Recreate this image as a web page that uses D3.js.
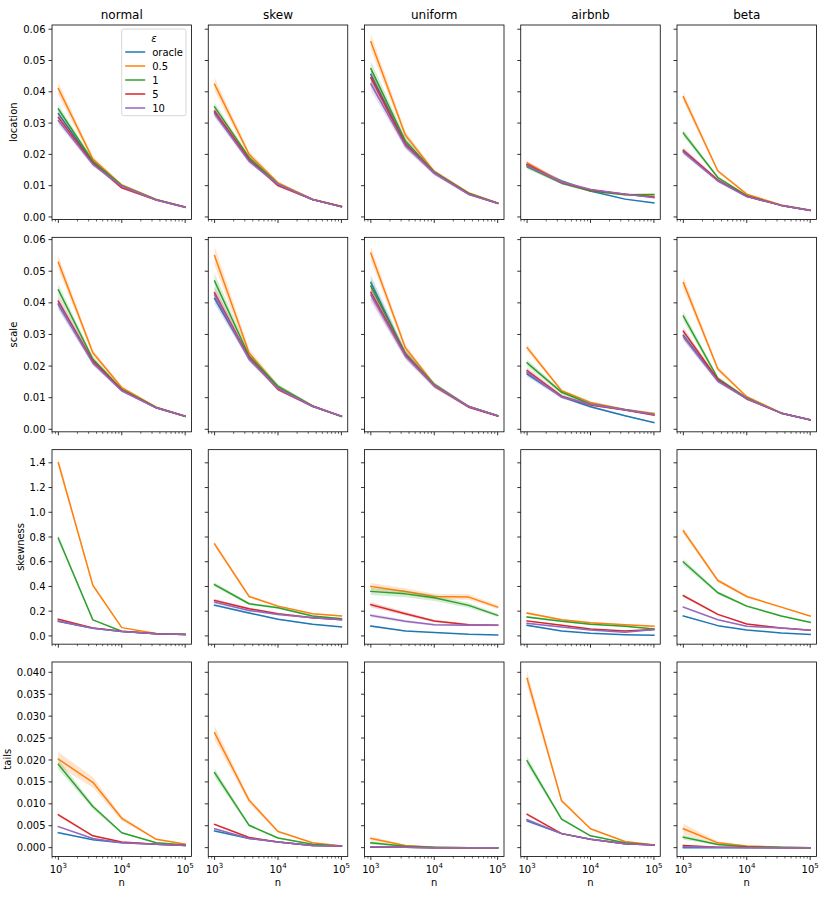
<!DOCTYPE html>
<html><head><meta charset="utf-8">
<script src="https://cdn.jsdelivr.net/npm/d3@7"></script>
<style>body{margin:0;background:#fff} svg text{font-family:"DejaVu Sans",sans-serif;fill:#000}</style>
</head><body><svg id="c" width="830" height="900"></svg>
<script>
// ---------- data ----------
const nValues = [1000, 3500, 10000, 35000, 100000];
const distributions = ["normal", "skew", "uniform", "airbnb", "beta"];
const metrics = ["location", "scale", "skewness", "tails"];
const epsilons = ["oracle", "0.5", "1", "5", "10"];
const colors = ["#1f77b4", "#ff7f0e", "#2ca02c", "#d62728", "#9467bd"];

// rows of each array: oracle, 0.5, 1, 5, 10 ; columns: nValues
const locNormal = [[0.0330,0.0175,0.0100,0.0055,0.0032],[0.0410,0.0185,0.0102,0.0056,0.0032],[0.0345,0.0178,0.0100,0.0055,0.0032],[0.0318,0.0172,0.0093,0.0054,0.0031],[0.0308,0.0168,0.0098,0.0054,0.0031]];
const locSkew = [[0.0335,0.0182,0.0104,0.0056,0.0033],[0.0424,0.0200,0.0109,0.0057,0.0034],[0.0352,0.0190,0.0105,0.0056,0.0033],[0.0338,0.0183,0.0100,0.0056,0.0033],[0.0330,0.0178,0.0104,0.0056,0.0032]];
const locUniform = [[0.0455,0.0235,0.0142,0.0074,0.0044],[0.0560,0.0262,0.0145,0.0077,0.0045],[0.0474,0.0243,0.0143,0.0075,0.0044],[0.0445,0.0232,0.0141,0.0073,0.0044],[0.0425,0.0228,0.0140,0.0072,0.0044]];
const locAirbnb = [[0.0165,0.0115,0.0083,0.0057,0.0045],[0.0173,0.0112,0.0086,0.0072,0.0066],[0.0160,0.0108,0.0083,0.0071,0.0072],[0.0168,0.0110,0.0086,0.0073,0.0063],[0.0164,0.0111,0.0088,0.0073,0.0062]];
const locBeta = [[0.0210,0.0117,0.0066,0.0037,0.0021],[0.0384,0.0147,0.0073,0.0038,0.0022],[0.0268,0.0126,0.0068,0.0037,0.0021],[0.0213,0.0118,0.0066,0.0037,0.0021],[0.0207,0.0115,0.0065,0.0037,0.0021]];

const scaleNormal = [[0.0395,0.0213,0.0124,0.0068,0.0041],[0.0528,0.0242,0.0132,0.0070,0.0042],[0.0441,0.0222,0.0126,0.0069,0.0041],[0.0405,0.0215,0.0124,0.0068,0.0041],[0.0398,0.0210,0.0122,0.0068,0.0041]];
const scaleSkew = [[0.0414,0.0225,0.0132,0.0073,0.0041],[0.0549,0.0241,0.0135,0.0074,0.0041],[0.0469,0.0232,0.0136,0.0074,0.0041],[0.0432,0.0226,0.0126,0.0073,0.0041],[0.0425,0.0222,0.0129,0.0073,0.0041]];
const scaleUniform = [[0.0464,0.0238,0.0140,0.0072,0.0043],[0.0557,0.0258,0.0142,0.0072,0.0043],[0.0453,0.0240,0.0141,0.0072,0.0043],[0.0433,0.0236,0.0137,0.0070,0.0042],[0.0425,0.0232,0.0138,0.0072,0.0043]];
const scaleAirbnb = [[0.0175,0.0103,0.0071,0.0043,0.0021],[0.0258,0.0122,0.0085,0.0063,0.0050],[0.0210,0.0117,0.0080,0.0062,0.0047],[0.0186,0.0105,0.0077,0.0061,0.0045],[0.0180,0.0102,0.0079,0.0062,0.0047]];
const scaleBeta = [[0.0297,0.0155,0.0098,0.0051,0.0030],[0.0464,0.0191,0.0103,0.0052,0.0030],[0.0358,0.0161,0.0099,0.0051,0.0030],[0.0310,0.0157,0.0096,0.0051,0.0030],[0.0292,0.0152,0.0097,0.0051,0.0030]];

const skewNormal = [[0.118,0.062,0.036,0.018,0.012],[1.400,0.410,0.067,0.020,0.013],[0.790,0.130,0.038,0.018,0.012],[0.135,0.065,0.037,0.018,0.012],[0.120,0.062,0.036,0.018,0.012]];
const skewSkew = [[0.249,0.185,0.134,0.094,0.072],[0.743,0.319,0.241,0.180,0.161],[0.415,0.260,0.228,0.161,0.139],[0.287,0.220,0.180,0.147,0.131],[0.273,0.206,0.174,0.147,0.131]];
const skewUniform = [[0.080,0.040,0.027,0.013,0.008],[0.400,0.360,0.319,0.314,0.233],[0.360,0.340,0.308,0.247,0.166],[0.252,0.180,0.121,0.091,0.086],[0.166,0.118,0.091,0.086,0.086]];
const skewAirbnb = [[0.086,0.040,0.021,0.010,0.005],[0.185,0.131,0.107,0.091,0.078],[0.153,0.118,0.094,0.078,0.056],[0.121,0.086,0.056,0.040,0.051],[0.102,0.072,0.048,0.030,0.051]];
const skewBeta = [[0.161,0.083,0.048,0.024,0.011],[0.850,0.448,0.319,0.233,0.161],[0.598,0.349,0.241,0.161,0.110],[0.325,0.174,0.097,0.064,0.046],[0.233,0.131,0.078,0.064,0.046]];

const tailsNormal = [[0.0034,0.0018,0.0011,0.0008,0.0005],[0.0202,0.0149,0.0067,0.0019,0.0008],[0.0190,0.0094,0.0034,0.0011,0.0006],[0.0075,0.0027,0.0013,0.0008,0.0005],[0.0048,0.0021,0.0011,0.0008,0.0005]];
const tailsSkew = [[0.0038,0.0021,0.0013,0.0005,0.0004],[0.0262,0.0108,0.0037,0.0011,0.0004],[0.0171,0.0051,0.0022,0.0008,0.0004],[0.0053,0.0023,0.0013,0.0005,0.0004],[0.0043,0.0021,0.0013,0.0005,0.0004]];
const tailsUniform = [[0.0001,0.0001,0.0000,0.0000,0.0000],[0.0021,0.0005,0.0001,0.0000,0.0000],[0.0011,0.0003,0.0001,0.0000,0.0000],[0.0002,0.0001,0.0000,0.0000,0.0000],[0.0002,0.0001,0.0000,0.0000,0.0000]];
const tailsAirbnb = [[0.0061,0.0032,0.0019,0.0009,0.0006],[0.0386,0.0107,0.0043,0.0014,0.0006],[0.0198,0.0065,0.0027,0.0011,0.0006],[0.0076,0.0032,0.0019,0.0009,0.0006],[0.0064,0.0032,0.0019,0.0009,0.0006]];
const tailsBeta = [[0.0000,0.0000,0.0000,0.0000,0.0000],[0.0043,0.0011,0.0004,0.0001,0.0000],[0.0024,0.0007,0.0002,0.0001,0.0000],[0.0005,0.0001,0.0001,0.0000,0.0000],[0.0002,0.0001,0.0000,0.0000,0.0000]];

// confidence band half-width, % of value, per distribution per epsilon
const bandLocation = [[4,5,4,4,4],[4,5,4,4,4],[5,4.5,5,5,5],[4,4,4,4,4],[4,4,4,4,4]];
const bandScale = [[4,4,4,4,4],[4,5.5,5,4,4],[5,4,5,5,5],[5,4,5,5,5],[4,4,4,4,4]];
const bandSkewness = [[3,2.5,3,4,4],[4,3,4,4,4],[7,7,8,8,9],[5,5,5,5,5],[3,3,4,4,4]];
const bandTails = [[6,8,6,5,5],[6,6,6,5,5],[30,25,35,30,30],[5,4.5,5,5,5],[30,28,25,30,30]];

const yTicksLoc = [0,0.01,0.02,0.03,0.04,0.05,0.06];
const yTicksSkew = [0,0.2,0.4,0.6,0.8,1.0,1.2,1.4];
const yTicksTails = [0,0.005,0.010,0.015,0.020,0.025,0.030,0.035,0.040];
const xMajorTicks = [1e3, 1e4, 1e5];
const xTickExp = ["3", "4", "5"];

// ---------- assembly ----------
const rowData = [
  [locNormal, locSkew, locUniform, locAirbnb, locBeta],
  [scaleNormal, scaleSkew, scaleUniform, scaleAirbnb, scaleBeta],
  [skewNormal, skewSkew, skewUniform, skewAirbnb, skewBeta],
  [tailsNormal, tailsSkew, tailsUniform, tailsAirbnb, tailsBeta]
];
const rowBands = [bandLocation, bandScale, bandSkewness, bandTails];
const rowTicks = [yTicksLoc, yTicksLoc, yTicksSkew, yTicksTails];
const rowFmt = [d3.format(".2f"), d3.format(".2f"), d3.format(".1f"), d3.format(".3f")];

const W = 139.5, H = 194.5;
const colLeft = c => 52 + c * 156.25;
const rowTop = r => 25 + r * 212.33;

const svg = d3.select("#c");
const x = d3.scaleLog().domain([Math.pow(10, 2.9), Math.pow(10, 5.1)]).range([0, W]);
const xMinor = [];
for (let e = 2; e <= 5; e++) for (let k = 2; k <= 9; k++) {
  const v = k * Math.pow(10, e);
  if (v >= x.domain()[0] && v <= x.domain()[1]) xMinor.push(v);
}

metrics.forEach((m, r) => {
  let lo = Infinity, hi = -Infinity;
  rowData[r].forEach((panel, c) => panel.forEach((s, i) => s.forEach(v => {
    const b = v * rowBands[r][c][i] / 100;
    lo = Math.min(lo, v - b); hi = Math.max(hi, v + b);
  })));
  const pad = (hi - lo) * 0.05;
  const y = d3.scaleLinear().domain([lo - pad, hi + pad]).range([H, 0]);

  let minLabelLeft = Infinity;

  distributions.forEach((d, c) => {
    const g = svg.append("g").attr("transform", `translate(${colLeft(c)},${rowTop(r)})`);
    g.append("rect").attr("width", W).attr("height", H).attr("fill", "#fff");

    rowData[r][c].forEach((s, i) => {
      const pts = s.map((v, j) => ({n: nValues[j], v, b: v * rowBands[r][c][i] / 100}));
      g.append("path").datum(pts)
        .attr("d", d3.area().x(p => x(p.n)).y0(p => y(p.v - p.b)).y1(p => y(p.v + p.b)))
        .attr("fill", colors[i]).attr("fill-opacity", 0.2).attr("stroke", "none");
      g.append("path").datum(pts)
        .attr("d", d3.line().x(p => x(p.n)).y(p => y(p.v)))
        .attr("fill", "none").attr("stroke", colors[i]).attr("stroke-width", 1.5)
        .attr("stroke-linejoin", "round").attr("stroke-linecap", "square");
    });

    g.append("rect").attr("width", W).attr("height", H)
      .attr("fill", "none").attr("stroke", "#000").attr("stroke-width", 0.8);

    rowTicks[r].forEach(t => {
      g.append("line").attr("x1", -3.5).attr("x2", 0).attr("y1", y(t)).attr("y2", y(t))
        .attr("stroke", "#000").attr("stroke-width", 0.8);
      if (c === 0) {
        const tx = g.append("text").attr("x", -6.5).attr("y", y(t)).attr("dy", "0.36em")
          .attr("text-anchor", "end").attr("font-size", 10).text(rowFmt[r](t));
        const bb = tx.node().getBBox();
        minLabelLeft = Math.min(minLabelLeft, colLeft(0) + bb.x);
      }
    });

    xMajorTicks.forEach((t, k) => {
      g.append("line").attr("x1", x(t)).attr("x2", x(t)).attr("y1", H).attr("y2", H + 3.5)
        .attr("stroke", "#000").attr("stroke-width", 0.8);
      if (r === metrics.length - 1) {
        const tx = g.append("text").attr("x", x(t)).attr("y", H + 16.5)
          .attr("text-anchor", "middle").attr("font-size", 10);
        tx.append("tspan").text("10");
        tx.append("tspan").attr("font-size", 7).attr("dy", -4.5).text(xTickExp[k]);
      }
    });
    xMinor.forEach(t => {
      g.append("line").attr("x1", x(t)).attr("x2", x(t)).attr("y1", H).attr("y2", H + 2)
        .attr("stroke", "#000").attr("stroke-width", 0.6);
    });

    if (r === 0) {
      g.append("text").attr("x", W / 2).attr("y", -6.5).attr("text-anchor", "middle")
        .attr("font-size", 12).text(d);
    }
    if (r === metrics.length - 1) {
      g.append("text").attr("x", W / 2).attr("y", H + 29.5).attr("text-anchor", "middle")
        .attr("font-size", 10).text("n");
    }
  });

  const cy = rowTop(r) + H / 2;
  const lx = minLabelLeft - 6;
  svg.append("text").attr("transform", `translate(${lx},${cy}) rotate(-90)`)
    .attr("text-anchor", "middle").attr("font-size", 10).text(m);
});

// legend in first panel
const lg = svg.append("g").attr("transform", `translate(${colLeft(0)},${rowTop(0)})`);
const lx0 = 69.7, ly0 = 4, lw = 64.3, lh = 86.7;
lg.append("rect").attr("x", lx0).attr("y", ly0).attr("width", lw).attr("height", lh)
  .attr("rx", 2).attr("fill", "#fff").attr("fill-opacity", 0.8)
  .attr("stroke", "#cccccc").attr("stroke-width", 0.8);
lg.append("text").attr("x", lx0 + lw / 2).attr("y", ly0 + 9).attr("dy", "0.36em")
  .attr("text-anchor", "middle").attr("font-size", 10).attr("font-style", "italic").text("ε");
epsilons.forEach((e, i) => {
  const yy = ly0 + 23 + i * 14;
  lg.append("line").attr("x1", lx0 + 3.5).attr("x2", lx0 + 23.5).attr("y1", yy).attr("y2", yy)
    .attr("stroke", colors[i]).attr("stroke-width", 1.5);
  lg.append("text").attr("x", lx0 + 30.5).attr("y", yy).attr("dy", "0.36em")
    .attr("font-size", 10).text(e);
});
</script></body></html>
